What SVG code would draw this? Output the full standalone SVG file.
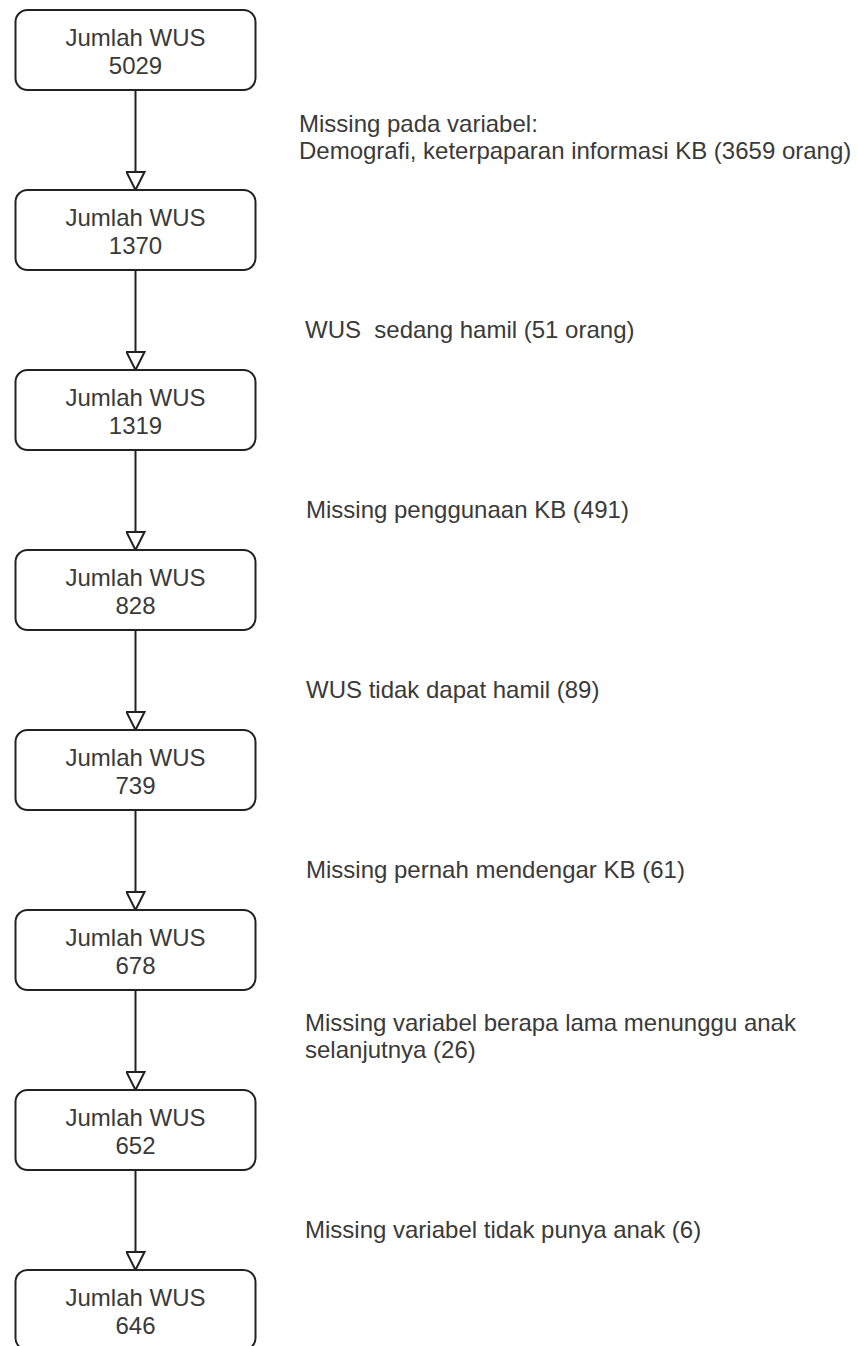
<svg xmlns="http://www.w3.org/2000/svg" width="858" height="1346" viewBox="0 0 858 1346">
<style>
.box{fill:#ffffff;stroke:#222222;stroke-width:2}
.bt{font-family:"Liberation Sans",Arial,sans-serif;font-size:24px;fill:#3a3a3a;text-anchor:middle}
.lb{font-family:"Liberation Sans",Arial,sans-serif;font-size:24px;fill:#3a3a3a}
.edge{stroke:#222222;stroke-width:2;fill:none;marker-end:url(#tri)}
</style>
<defs>
<marker id="tri" viewBox="0 0 20 20" refX="19" refY="10" markerWidth="20" markerHeight="20" markerUnits="userSpaceOnUse" orient="auto">
<path d="M1,1 L19,10 L1,19 Z" fill="#ffffff" stroke="#222222" stroke-width="2"/>
</marker>
</defs>
<rect width="858" height="1346" fill="#ffffff"/>
<g id="connectors">
<line class="edge" x1="135.5" y1="90" x2="135.5" y2="190"/>
<line class="edge" x1="135.5" y1="270" x2="135.5" y2="370"/>
<line class="edge" x1="135.5" y1="450" x2="135.5" y2="550"/>
<line class="edge" x1="135.5" y1="630" x2="135.5" y2="730"/>
<line class="edge" x1="135.5" y1="810" x2="135.5" y2="910"/>
<line class="edge" x1="135.5" y1="990" x2="135.5" y2="1090"/>
<line class="edge" x1="135.5" y1="1170" x2="135.5" y2="1270"/>
</g>
<g id="n1"><rect class="box" x="15.5" y="10" width="240" height="80" rx="12"/><text class="bt" x="135.5" y="46">Jumlah WUS</text><text class="bt" x="135.5" y="74">5029</text></g>
<g id="n2"><rect class="box" x="15.5" y="190" width="240" height="80" rx="12"/><text class="bt" x="135.5" y="226">Jumlah WUS</text><text class="bt" x="135.5" y="254">1370</text></g>
<g id="n3"><rect class="box" x="15.5" y="370" width="240" height="80" rx="12"/><text class="bt" x="135.5" y="406">Jumlah WUS</text><text class="bt" x="135.5" y="434">1319</text></g>
<g id="n4"><rect class="box" x="15.5" y="550" width="240" height="80" rx="12"/><text class="bt" x="135.5" y="586">Jumlah WUS</text><text class="bt" x="135.5" y="614">828</text></g>
<g id="n5"><rect class="box" x="15.5" y="730" width="240" height="80" rx="12"/><text class="bt" x="135.5" y="766">Jumlah WUS</text><text class="bt" x="135.5" y="794">739</text></g>
<g id="n6"><rect class="box" x="15.5" y="910" width="240" height="80" rx="12"/><text class="bt" x="135.5" y="946">Jumlah WUS</text><text class="bt" x="135.5" y="974">678</text></g>
<g id="n7"><rect class="box" x="15.5" y="1090" width="240" height="80" rx="12"/><text class="bt" x="135.5" y="1126">Jumlah WUS</text><text class="bt" x="135.5" y="1154">652</text></g>
<g id="n8"><rect class="box" x="15.5" y="1270" width="240" height="80" rx="12"/><text class="bt" x="135.5" y="1306">Jumlah WUS</text><text class="bt" x="135.5" y="1334">646</text></g>
<g id="labels">
<text class="lb" x="299" y="132">Missing pada variabel:</text>
<text class="lb" x="299" y="159">Demografi, keterpaparan informasi KB (3659 orang)</text>
<text class="lb" x="305" y="338" xml:space="preserve">WUS  sedang hamil (51 orang)</text>
<text class="lb" x="306" y="518">Missing penggunaan KB (491)</text>
<text class="lb" x="306" y="698">WUS tidak dapat hamil (89)</text>
<text class="lb" x="306" y="878">Missing pernah mendengar KB (61)</text>
<text class="lb" x="305" y="1031">Missing variabel berapa lama menunggu anak</text>
<text class="lb" x="305" y="1058">selanjutnya (26)</text>
<text class="lb" x="305" y="1238">Missing variabel tidak punya anak (6)</text>
</g>
</svg>
